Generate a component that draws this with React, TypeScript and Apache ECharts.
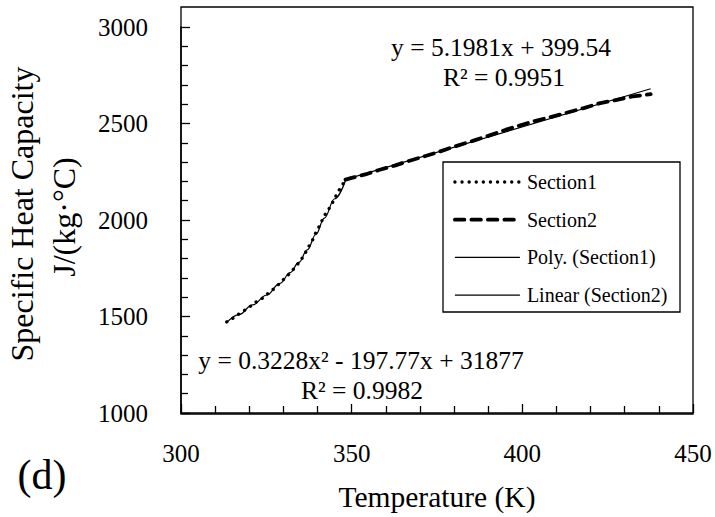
import React, { useEffect, useRef } from "react";
import * as echarts from "echarts";

const FONT = "Liberation Serif";

const section1Temp = [313.4, 315.5, 317.5, 319.7, 321.7, 323.8, 325.8, 327.7, 329.4, 331.3, 333.0, 334.6, 336.0, 337.2, 338.4, 339.5, 340.8, 341.9, 343.3, 344.6, 345.8, 347.3, 348.2];
const section1Cp = [1472, 1494, 1520, 1544, 1572, 1594, 1624, 1650, 1681, 1713, 1746, 1780, 1815, 1856, 1890, 1935, 1977, 2020, 2057, 2097, 2140, 2183, 2209];

const section2Temp = [348.2, 350, 354, 358, 362.6, 366, 371, 375.7, 380, 385.5, 390, 395.2, 403, 408, 412.8, 418, 422.5, 427, 432.3, 437.6];
const section2Cp = [2209, 2218, 2236, 2259, 2282, 2302, 2328, 2354, 2380, 2410, 2436, 2468, 2510, 2532, 2555, 2580, 2604, 2620, 2640, 2652];

const polyTemp = [313.4, 317, 321, 325, 329, 332, 334.5, 337, 339.5, 342, 345, 348.3];
const polyCp = [1468, 1510, 1560, 1610, 1672, 1727, 1780, 1845, 1925, 2010, 2110, 2210];

const linearTemp = [348.5, 437.6];
const linearCp = [2212, 2680];

const xTicks = [300, 350, 400, 450];
const yTicks = [1000, 1500, 2000, 2500, 3000];

const seriesNames = ["Section1", "Section2", "Poly. (Section1)", "Linear (Section2)"];
const yTitleLines = ["Specific Heat Capacity", "J/(kg·°C)"];
const xTitle = "Temperature (K)";
const linEqLines = ["y = 5.1981x + 399.54", "R² = 0.9951"];
const polyEqLines = ["y = 0.3228x² - 197.77x + 31877", "R² = 0.9982"];
const panelLabel = "(d)";

const pairs = (xs: number[], ys: number[]) => xs.map((x, i) => [x, ys[i]]);

export default function App() {
  const ref = useRef<HTMLDivElement>(null);
  useEffect(() => {
    if (!ref.current) return;
    const chart = echarts.init(ref.current, undefined, { renderer: "svg" });
    const axisCommon = {
      type: "value" as const,
      axisLine: { show: true, onZero: false, lineStyle: { color: "#000", width: 1.5 } },
      axisTick: { show: true, inside: true, length: 9, lineStyle: { color: "#000", width: 1.3 } },
      minorTick: { show: true, splitNumber: 5, length: 7, lineStyle: { color: "#000", width: 1.3 } },
      splitLine: { show: false },
      minorSplitLine: { show: false },
    };
    const text = (t: string, x: number, y: number, size: number, rot = 0) => ({
      type: "text",
      x,
      y,
      rotation: rot,
      silent: true,
      style: {
        text: t,
        fontFamily: FONT,
        fontSize: size,
        fill: "#000",
        textAlign: "center",
        textVerticalAlign: "middle",
      },
    });
    const plain = (v: number) => String(v);
    chart.setOption({
      animation: false,
      backgroundColor: "#fff",
      textStyle: { fontFamily: FONT, color: "#000" },
      grid: { left: 181, right: 22, top: 27, bottom: 103, containLabel: false },
      xAxis: {
        ...axisCommon,
        min: xTicks[0],
        max: xTicks[xTicks.length - 1],
        interval: xTicks[1] - xTicks[0],
        name: xTitle,
        nameLocation: "middle",
        nameGap: 69,
        nameTextStyle: { fontFamily: FONT, fontSize: 29.5, color: "#000" },
        axisLabel: { fontFamily: FONT, fontSize: 25, color: "#000", margin: 28, formatter: plain },
      },
      yAxis: {
        ...axisCommon,
        min: yTicks[0],
        max: yTicks[yTicks.length - 1],
        interval: yTicks[1] - yTicks[0],
        axisLabel: { fontFamily: FONT, fontSize: 25, color: "#000", margin: 33, formatter: plain },
      },
      legend: {
        orient: "vertical",
        left: 453,
        top: 172,
        padding: 0,
        itemWidth: 65,
        itemHeight: 14,
        itemGap: 17.7,
        selectedMode: false,
        textStyle: { fontFamily: FONT, fontSize: 20, color: "#000", lineHeight: 20, padding: [0, 0, 0, 2] },
        data: [
          { name: seriesNames[0], itemStyle: { opacity: 0 }, lineStyle: { width: 3.3 } },
          { name: seriesNames[1], itemStyle: { opacity: 0 }, lineStyle: { width: 3.8 } },
          { name: seriesNames[2], itemStyle: { opacity: 0 }, lineStyle: { width: 1.2 } },
          { name: seriesNames[3], itemStyle: { opacity: 0 }, lineStyle: { width: 1.2 } },
        ],
      },
      series: [
        {
          name: seriesNames[0],
          type: "line",
          data: pairs(section1Temp, section1Cp),
          symbol: "none",
          lineStyle: { color: "#000", width: 3.3, type: [0.1, 7], cap: "round" },
          z: 2,
        },
        {
          name: seriesNames[1],
          type: "line",
          data: pairs(section2Temp, section2Cp),
          symbol: "none",
          lineStyle: { color: "#000", width: 3.8, type: [9.5, 7], cap: "round" },
          z: 2,
        },
        {
          name: seriesNames[2],
          type: "line",
          data: pairs(polyTemp, polyCp),
          symbol: "none",
          smooth: 0.4,
          smoothMonotone: "x",
          lineStyle: { color: "#000", width: 1.2, type: "solid" },
          z: 3,
        },
        {
          name: seriesNames[3],
          type: "line",
          data: pairs(linearTemp, linearCp),
          symbol: "none",
          lineStyle: { color: "#000", width: 1.2, type: "solid" },
          z: 3,
        },
      ],
      graphic: [
        {
          type: "rect",
          silent: true,
          shape: { x: 181, y: 7, width: 512, height: 407 },
          style: { fill: "none", stroke: "#000", lineWidth: 1.3 },
        },
        {
          type: "rect",
          silent: true,
          shape: { x: 443, y: 162, width: 237, height: 150 },
          style: { fill: "none", stroke: "#000", lineWidth: 1.3 },
        },
        text(yTitleLines[0], 22, 214, 32, Math.PI / 2),
        text(yTitleLines[1], 64, 217, 32, Math.PI / 2),
        text(linEqLines[0], 501, 47, 25.5),
        text(linEqLines[1], 504, 77, 25.5),
        text(polyEqLines[0], 361, 360, 25.5),
        text(polyEqLines[1], 362, 390, 25.5),
        text(panelLabel, 42, 475, 42),
      ],
    });
    return () => chart.dispose();
  }, []);
  return <div ref={ref} style={{ position: "absolute", left: 0, top: 0, width: 715, height: 517 }} />;
}
